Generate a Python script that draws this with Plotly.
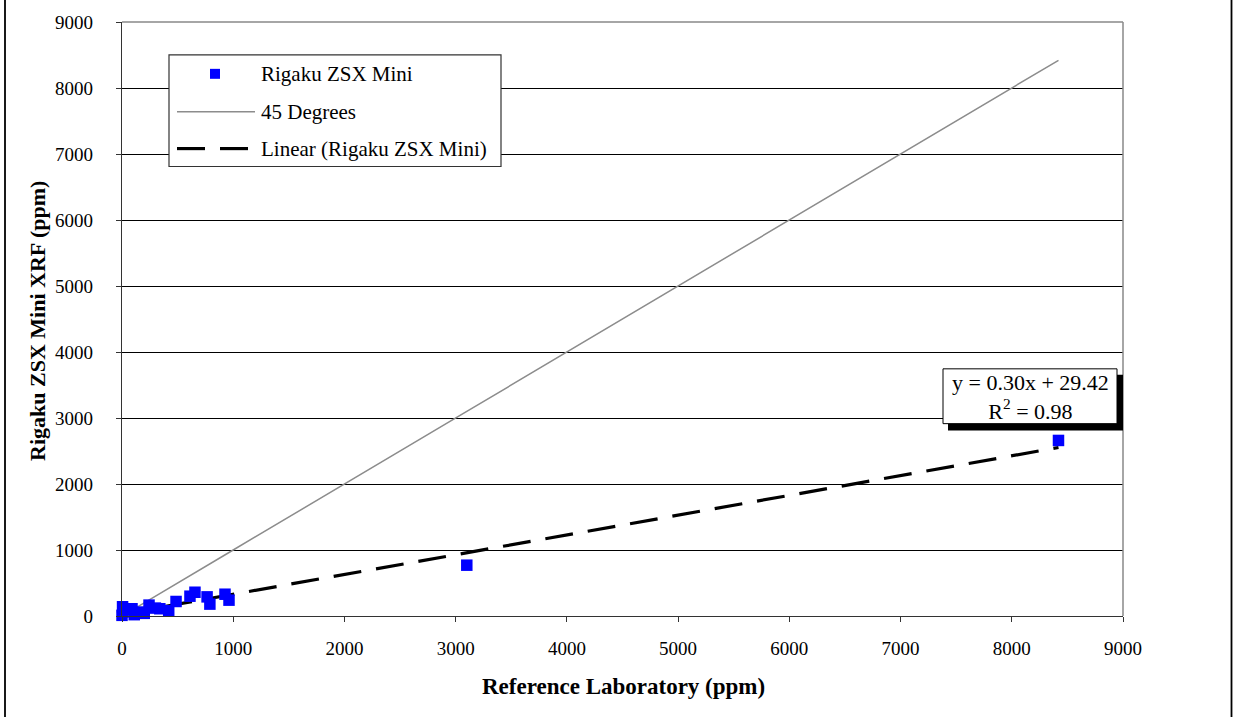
import plotly.graph_objects as go

# ---------------- data ----------------
ref_lab = [0, 5, 10, 30, 90, 110, 150, 200, 243, 300, 340, 420, 486, 611, 656, 765, 790, 926, 962, 3100, 8420]
rigaku = [10, 140, 60, 100, 110, 20, 60, 40, 165, 120, 110, 80, 220, 300, 360, 290, 180, 330, 240, 770, 2660]
trend_slope = [0.2997]
trend_intercept = [29.42]
x_ticks = [0, 1000, 2000, 3000, 4000, 5000, 6000, 7000, 8000, 9000]
y_ticks = [0, 1000, 2000, 3000, 4000, 5000, 6000, 7000, 8000, 9000]
series_names = ["Rigaku ZSX Mini", "45 Degrees", "Linear (Rigaku ZSX Mini)"]
eq_text = ["y = 0.30x + 29.42", "R<sup>2</sup> = 0.98"]
x_title = "Reference Laboratory (ppm)"
y_title = "Rigaku ZSX Mini XRF (ppm)"

FONT = "Liberation Serif, Times New Roman, serif"

# plot-area geometry (pixels) for layout placement
W, H = 1233, 717
L, R, T, B = 122, 110, 20, 101
PW, PH = W - L - R, H - T - B


def px(xp):
    return (xp - L) / PW


def py(yp):
    return (H - B - yp) / PH


xs_sorted = sorted(ref_lab)
x_min, x_max = min(ref_lab), max(ref_lab)

fig = go.Figure()

# 45 degree line
fig.add_trace(go.Scatter(
    x=xs_sorted, y=xs_sorted, mode="lines",
    line=dict(color="#8c8c8c", width=1.5),
    name=series_names[1], showlegend=False, hoverinfo="skip"))

# Linear trendline
fig.add_trace(go.Scatter(
    x=[x_min, x_max],
    y=[trend_slope[0] * x_min + trend_intercept[0], trend_slope[0] * x_max + trend_intercept[0]],
    mode="lines",
    line=dict(color="black", width=3.2, dash="28px,15px"),
    name=series_names[2], showlegend=False, hoverinfo="skip"))

# data points
fig.add_trace(go.Scatter(
    x=ref_lab, y=rigaku, mode="markers",
    marker=dict(symbol="square", size=11.5, color="#0000ff", line=dict(width=0)),
    name=series_names[0], showlegend=False, cliponaxis=False))

shapes = []
# plot-area top/right border (gray)
shapes.append(dict(type="line", xref="paper", yref="paper", x0=0, x1=1, y0=1, y1=1,
                   line=dict(color="#888888", width=1.5), layer="above"))
shapes.append(dict(type="line", xref="paper", yref="paper", x0=1, x1=1, y0=0, y1=1,
                   line=dict(color="#888888", width=1.5), layer="above"))
# outer chart frame (vertical lines)
for xp in (5, 1231.5):
    shapes.append(dict(type="line", xref="paper", yref="paper", x0=px(xp), x1=px(xp),
                       y0=-0.3, y1=1.2, line=dict(color="black", width=1.8), layer="above"))

# legend box
shapes.append(dict(type="rect", xref="paper", yref="paper",
                   x0=px(169), x1=px(501), y0=py(165), y1=py(53),
                   fillcolor="white", line=dict(color="#333333", width=1.2), layer="above"))
# legend samples
shapes.append(dict(type="rect", xref="paper", yref="paper",
                   x0=px(210), x1=px(220), y0=py(77), y1=py(67),
                   fillcolor="#0000ff", line=dict(width=0), layer="above"))
shapes.append(dict(type="line", xref="paper", yref="paper",
                   x0=px(177), x1=px(255), y0=py(110), y1=py(110),
                   line=dict(color="#8c8c8c", width=1.5), layer="above"))
for a, b in ((177, 205), (220, 248)):
    shapes.append(dict(type="line", xref="paper", yref="paper",
                       x0=px(a), x1=px(b), y0=py(147), y1=py(147),
                       line=dict(color="black", width=3.2), layer="above"))

# equation box with shadow
shapes.append(dict(type="rect", xref="paper", yref="paper",
                   x0=px(948), x1=px(1123), y0=py(430), y1=py(374),
                   fillcolor="black", line=dict(width=0), layer="above"))
shapes.append(dict(type="rect", xref="paper", yref="paper",
                   x0=px(943), x1=px(1117), y0=py(423), y1=py(368),
                   fillcolor="white", line=dict(color="black", width=1), layer="above"))

annotations = []
for name, yp in zip(series_names, (72, 110, 147)):
    annotations.append(dict(xref="paper", yref="paper", x=px(259), y=py(yp),
                            xanchor="left", yanchor="middle", showarrow=False,
                            text=name, font=dict(family=FONT, size=21, color="black")))
annotations.append(dict(xref="paper", yref="paper", x=px(1030), y=py(396),
                        xanchor="center", yanchor="middle", showarrow=False,
                        text="<br>".join(eq_text), align="center",
                        font=dict(family=FONT, size=22, color="black")))
annotations.append(dict(xref="paper", yref="paper", x=px(623), y=py(687),
                        xanchor="center", yanchor="middle", showarrow=False,
                        text="<b>" + x_title + "</b>",
                        font=dict(family=FONT, size=23, color="black")))
annotations.append(dict(xref="paper", yref="paper", x=px(38), y=py(320),
                        xanchor="center", yanchor="middle", showarrow=False, textangle=-90,
                        text="<b>" + y_title + "</b>",
                        font=dict(family=FONT, size=22, color="black")))

fig.update_layout(
    width=W, height=H,
    margin=dict(l=L, r=R, t=T, b=B, pad=0),
    paper_bgcolor="white", plot_bgcolor="white",
    showlegend=False,
    shapes=shapes, annotations=annotations,
    font=dict(family=FONT, color="black"),
    xaxis=dict(range=[0, 9000], tickvals=x_ticks, ticktext=[str(v) for v in x_ticks],
               showgrid=False, zeroline=False, showline=True, linecolor="#333333", linewidth=1.2,
               ticks="outside", ticklen=5, tickcolor="#333333",
               tickfont=dict(family=FONT, size=19, color="black"), ticklabelstandoff=10),
    yaxis=dict(range=[0, 9000], tickvals=y_ticks, ticktext=[str(v) for v in y_ticks],
               showgrid=True, gridcolor="black", gridwidth=1,
               zeroline=False, showline=True, linecolor="#333333", linewidth=1.2,
               ticks="outside", ticklen=5, tickcolor="#333333",
               tickfont=dict(family=FONT, size=19, color="black"), ticklabelstandoff=19),
)

fig.write_html("out.html", config={"displayModeBar": False},
               post_script="document.body.style.margin='0';document.body.style.overflow='hidden';")
